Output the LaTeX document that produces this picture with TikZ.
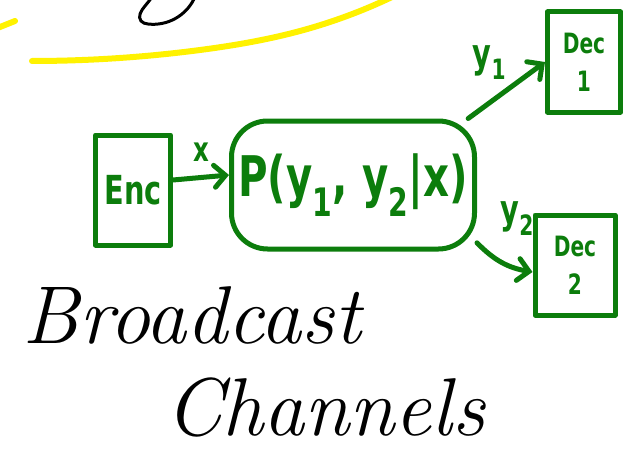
\documentclass[tikz,border=0pt]{standalone}
\usepackage{fontspec}
\newfontfamily\marker[FakeStretch=0.72]{DejaVu Sans}
\usetikzlibrary{hobby,arrows.meta,positioning}

\definecolor{mgreen}{RGB}{12,125,12}

\tikzset{
    box/.style={draw=mgreen, line width=5pt, line join=round, inner sep=0pt,
        align=center, text=mgreen, font=\marker\bfseries},
    link/.style={mgreen, line width=5pt, line cap=round,
        -{Straight Barb[length=11pt,width=22pt,line cap=round]}},
    lbl/.style={text=mgreen, font=\marker\bfseries\fontsize{34}{38}\selectfont, inner sep=2pt},
    hand/.style={font=\itshape\fontsize{82}{90}\selectfont, anchor=base, inner sep=0pt}
}

\begin{document}
\begin{tikzpicture}[x=1pt, y=-1pt, use Hobby shortcut]
    \useasboundingbox (0,0) rectangle (635,452);
    \clip (0,0) rectangle (635,452);

    % YELLOW UNDERLINE (from the previous board)
    \draw[yellow, line width=6pt, line cap=round] (32,61) .. (200,50) .. (300,31) .. (392,-3);
    \draw[yellow, line width=6pt, line cap=round] (-5,29) .. (15,21);

    % BLACK STROKE AT THE TOP
    \draw[black, line width=3pt, line cap=round] (194,-1) .. (148,24) .. (141,21) .. (145,6) .. (152,-3);

    % NODES
    \node[box, minimum width=75, minimum height=110,
        font=\marker\bfseries\fontsize{40}{44}\selectfont] (enc) at (133,190) {Enc};
    \node[box, minimum width=243, minimum height=128, rounded corners=36,
        font=\marker\bfseries\fontsize{56}{60}\selectfont] (chan) at (353,185)
        {P(y\textsubscript{1}, y\textsubscript{2}|x)};
    \node[box, minimum width=73, minimum height=100,
        font=\marker\bfseries\fontsize{28}{38}\selectfont] (dec1) at (584,62) {Dec\\1};
    \node[box, minimum width=80, minimum height=100,
        font=\marker\bfseries\fontsize{28}{38}\selectfont] (dec2) at (575,265) {Dec\\2};

    % CONNECTORS
    \draw[link] ([yshift=10pt]enc.east) -- node[lbl, above=12pt] (lx) {x} ([yshift=10pt]chan.west);
    \draw[link] (chan.30) -- node[lbl, above left=6pt and -4pt,
        font=\marker\bfseries\fontsize{40}{44}\selectfont] (ly1) {y\textsubscript{1}} (dec1.west);
    \draw[link] (chan.-25) to[bend right=18]
        node[lbl, above right=22pt and -6pt, font=\marker\bfseries\fontsize{40}{44}\selectfont] (ly2) {y\textsubscript{2}}
        ([yshift=-7pt]dec2.west);

    % TITLE
    \node[hand] (tbroad) at (192,343) {Broadcast};
    \node[hand] (tchan) at (325,435) {Channels};

\end{tikzpicture}
\end{document}
